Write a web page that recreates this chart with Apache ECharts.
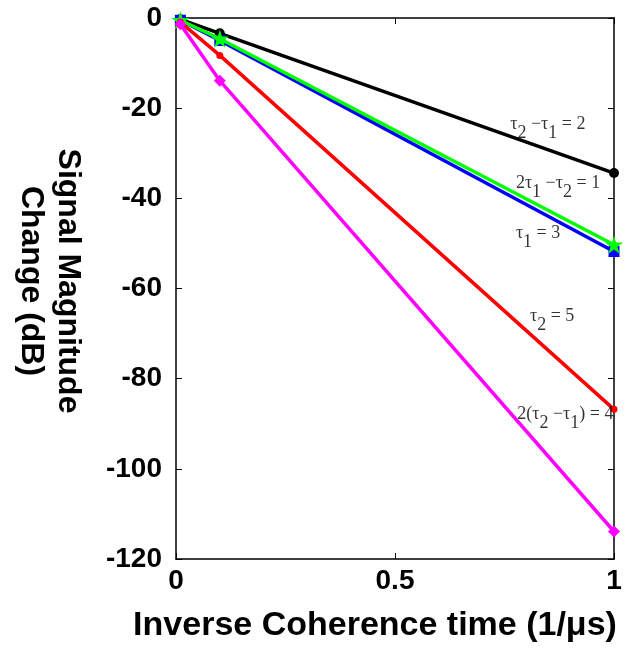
<!DOCTYPE html>
<html>
<head>
<meta charset="utf-8">
<script src="https://cdn.jsdelivr.net/npm/echarts@6/dist/echarts.min.js"></script>
<style>
  html, body { margin: 0; padding: 0; background: #fff; }
  #chart { width: 627px; height: 651px; }
</style>
</head>
<body>
<div id="chart"></div>
<script>
// Inverse coherence time (1/µs)
const invCoherence = [0.01, 0.1, 1];

// Signal magnitude change (dB) for each delay combination
const tauDiff2 = [-0.3, -3.4, -34.4];         // τ2 − τ1 = 2
const twoTau1MinusTau2 = [-0.5, -4.6, -50.3]; // 2τ1 − τ2 = 1
const tau1Eq3 = [-0.5, -5.0, -51.8];          // τ1 = 3
const tau2Eq5 = [-0.9, -8.3, -86.8];          // τ2 = 5
const twiceTauDiff = [-1.4, -13.9, -113.9];   // 2(τ2 − τ1) = 4

const yTicks = [0, -20, -40, -60, -80, -100, -120];
const xTicks = [0, 0.5, 1];

// Curve annotations: anchor (x, y) in data units, left-aligned
const annotations = [
  { x: 0.763, y: -24.1, text: '{m|τ}{s|2}{m| −τ}{s|1}{m| = 2}' },
  { x: 0.776, y: -37.0, text: '{m|2τ}{s|1}{m| −τ}{s|2}{m| = 1}' },
  { x: 0.776, y: -48.1, text: '{m|τ}{s|1}{m| = 3}' },
  { x: 0.808, y: -66.7, text: '{m|τ}{s|2}{m| = 5}' },
  { x: 0.779, y: -88.4, text: '{m|2(τ}{s|2}{m| −τ}{s|1}{m|) = 4}' }
];

const pairs = arr => invCoherence.map((x, i) => [x, arr[i]]);

const chart = echarts.init(document.getElementById('chart'));

function line(name, data, color, symbol, size, z) {
  return {
    name, type: 'line', data: pairs(data), z,
    lineStyle: { color, width: 3.5 },
    itemStyle: { color },
    symbol, symbolSize: size, showSymbol: true,
    clip: false, animation: false
  };
}

const frameLine = { show: true, onZero: false, lineStyle: { color: '#000', width: 1.5 } };
const innerTick = { show: true, inside: true, length: 6, lineStyle: { color: '#000', width: 1 } };
const labelFont = { fontFamily: 'Liberation Sans', fontWeight: 'bold', fontSize: 28, color: '#000' };

chart.setOption({
  animation: false,
  grid: { left: 176, right: 13, top: 18, bottom: 92 },
  xAxis: [
    {
      type: 'value', min: 0, max: 1, interval: 0.5,
      axisLine: frameLine, axisTick: innerTick,
      axisLabel: Object.assign({ margin: 8, formatter: v => xTicks.includes(v) ? String(v) : '' }, labelFont),
      splitLine: { show: false }
    },
    {
      type: 'value', min: 0, max: 1, interval: 0.5, position: 'top',
      axisLine: frameLine, axisTick: innerTick,
      axisLabel: { show: false }, splitLine: { show: false }
    }
  ],
  yAxis: [
    {
      type: 'value', min: -120, max: 0, interval: 20,
      axisLine: frameLine, axisTick: innerTick,
      axisLabel: Object.assign({ margin: 14, formatter: v => yTicks.includes(v) ? String(v) : '' }, labelFont),
      splitLine: { show: false }
    },
    {
      type: 'value', min: -120, max: 0, interval: 20, position: 'right',
      axisLine: frameLine, axisTick: innerTick,
      axisLabel: { show: false }, splitLine: { show: false }
    }
  ],
  graphic: [
    {
      type: 'text', x: 49, y: 281, rotation: -Math.PI / 2,
      style: {
        text: 'Signal Magnitude\nChange (dB)',
        font: 'bold 32px "Liberation Sans"', fill: '#000',
        align: 'center', verticalAlign: 'middle', lineHeight: 37
      }
    },
    {
      type: 'text', x: 375, y: 626,
      style: {
        text: 'Inverse Coherence time (1/μs)',
        font: 'bold 34px "Liberation Sans"', fill: '#000',
        align: 'center', verticalAlign: 'middle'
      }
    }
  ],
  series: [
    line('τ2 − τ1 = 2', tauDiff2, '#000000', 'circle', 10, 2),
    line('τ1 = 3', tau1Eq3, '#0000ff', 'rect', 11, 3),
    line('2τ1 − τ2 = 1', twoTau1MinusTau2, '#00ff00', 'path://M50,0 L61.8,36.2 L100,36.2 L69.1,58.6 L80.9,95.1 L50,72.7 L19.1,95.1 L30.9,58.6 L0,36.2 L38.2,36.2 Z', 18, 4),
    line('τ2 = 5', tau2Eq5, '#ff0000', 'circle', 7, 5),
    line('2(τ2 − τ1) = 4', twiceTauDiff, '#ff00ff', 'diamond', 12, 6),
    {
      type: 'scatter', symbolSize: 0, z: 10, silent: true, clip: false,
      data: annotations.map(a => ({ value: [a.x, a.y], text: a.text })),
      label: {
        show: true, position: 'right', distance: 0,
        formatter: p => p.data.text,
        rich: {
          m: { fontFamily: 'Liberation Serif', fontSize: 18, color: '#000', lineHeight: 22, verticalAlign: 'top' },
          s: { fontFamily: 'Liberation Serif', fontSize: 18, color: '#000', lineHeight: 22, padding: [9, 0, 0, 0], verticalAlign: 'top' }
        }
      }
    }
  ]
});
</script>
</body>
</html>
